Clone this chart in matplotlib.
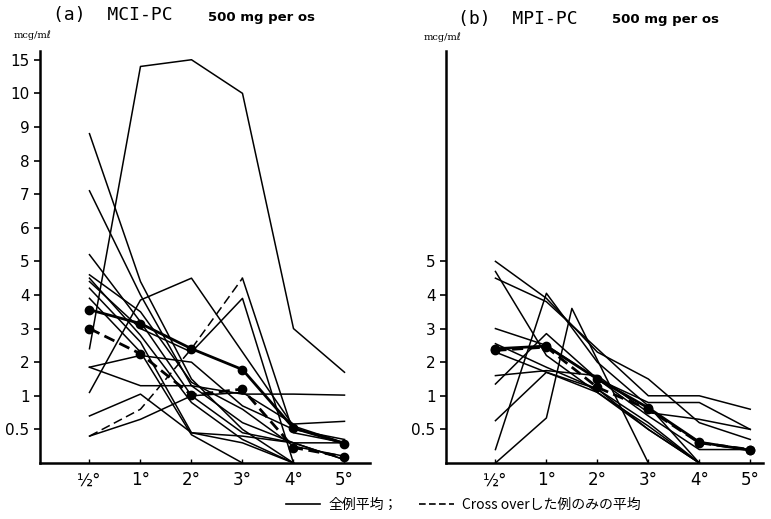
import numpy as np
import matplotlib
matplotlib.use('Agg')
import matplotlib.pyplot as plt
from matplotlib.lines import Line2D

# === Data (mcg/ml) ===
hours = [0, 1, 2, 3, 4, 5]           # category slots: 1/2, 1, 2, 3, 4, 5 h
hour_labels = ['½°', '1°', '2°', '3°', '4°', '5°']

# non-linear ordinate used in the original: 0, 0.5, 1, 2 ... 10, 15
scale_values = [0, 0.5, 1, 2, 3, 4, 5, 6, 7, 8, 9, 10, 15, 20]
yticks_a = [0.5, 1, 2, 3, 4, 5, 6, 7, 8, 9, 10, 15]
yticks_b = [0.5, 1, 2, 3, 4, 5]

# (a) MCI-PC individual cases
mci_cases = [
    [2.4, 14.0, 15.0, 10.0, 3.0, 1.7],
    [8.8, 4.4, 1.5, 0.5, 0.0],
    [7.1, 4.0, 1.3, 0.6, 0.3, 0.05],
    [5.2, 3.2, 1.0, 0.45, 0.3, 0.05],
    [4.6, 3.5, 1.4, 0.8, 0.25, 0.1],
    [4.5, 2.8, 0.9, 0.35, 0.0],
    [4.2, 2.6, 0.45, 0.4, 0.3, 0.3],
    [3.9, 2.3, 0.42, 0.0],
    [1.85, 2.2, 2.0, 0.85, 0.5, 0.35],
    [1.85, 1.3, 1.3, 1.05, 1.05, 1.02],
    [0.7, 1.05, 0.45, 0.3, 0.0],
    [0.4, 0.65, 1.0, 1.1, 0.58, 0.62],
    [1.1, 3.85, 4.5, 2.3, 0.55, 0.3],
    [4.4, 3.0, 2.3, 3.9, 0.0],
]
mci_dash_case = [0.4, 0.8, 2.4, 4.5, 0.45, 0.3]
mci_mean_all = [3.56, 3.15, 2.4, 1.78, 0.52, 0.29]
mci_mean_cross = [3.0, 2.25, 1.02, 1.2, 0.23, 0.09]

# (b) MPI-PC individual cases
mpi_cases = [
    [5.0, 3.9, 2.3, 1.5, 0.6, 0.35],
    [4.7, 2.2, 1.1, 0.5, 0.0],
    [4.5, 3.8, 2.4, 1.0, 1.0, 0.8],
    [3.0, 2.5, 1.5, 0.9, 0.9, 0.5],
    [1.6, 1.75, 1.6, 0.75, 0.65, 0.5],
    [1.35, 2.85, 1.5, 0.7, 0.2, 0.2],
    [0.63, 1.7, 1.2, 0.5, 0.0],
    [0.2, 4.05, 2.0, 0.85, 0.0],
    [2.55, 1.85, 1.2, 0.6, 0.0],
    [2.3, 1.7, 1.1, 0.55, 0.0],
]
mpi_peak_x = [0, 1, 1.5, 3]
mpi_peak_case = [0.0, 0.67, 3.6, 0.0]
mpi_mean_all = [2.4, 2.48, 1.5, 0.82, 0.31, 0.19]
mpi_mean_cross = [2.35, 2.45, 1.25, 0.8, 0.3, 0.2]

plt.rcParams['font.family'] = ['DejaVu Sans']

positions = np.arange(len(scale_values))


def fwd(v):
    return np.interp(v, scale_values, positions)


def inv(p):
    return np.interp(p, positions, scale_values)


def draw_panel(ax, cases, mean_all, mean_cross, yticks, xmax):
    for c in cases:
        ax.plot(hours[:len(c)], c, color='black', lw=1.1)
    ax.plot(hours, mean_all, color='black', lw=2.0, marker='o', ms=6)
    ax.plot(hours, mean_cross, color='black', lw=2.0, ls=(0, (4, 2)), marker='o', ms=6)
    ax.set_yscale('function', functions=(fwd, inv))
    ax.set_ylim(0, 16.3)
    ax.set_xlim(-0.97, xmax)
    ax.set_yticks(yticks)
    ax.set_yticklabels([('%g' % t) for t in yticks])
    ax.set_xticks(hours)
    ax.set_xticklabels(hour_labels)
    ax.spines['top'].set_visible(False)
    ax.spines['right'].set_visible(False)
    ax.spines['left'].set_linewidth(1.8)
    ax.spines['bottom'].set_linewidth(1.8)
    ax.tick_params(axis='y', direction='out', length=4, width=1.2, labelsize=11)
    ax.tick_params(axis='x', direction='in', length=3, width=1.0, labelsize=12, pad=6)
    ax.minorticks_off()


fig = plt.figure(figsize=(7.71, 5.19), dpi=100)
ax_a = fig.add_axes([40 / 771, 56 / 519, 330 / 771, 412 / 519])
ax_b = fig.add_axes([446 / 771, 56 / 519, 317 / 771, 412 / 519])

draw_panel(ax_a, mci_cases, mci_mean_all, mci_mean_cross, yticks_a, 5.5)
ax_a.plot(hours[:4], mci_dash_case[:4], color='black', lw=1.1, ls=(0, (6, 3)))
ax_a.plot(hours[3:], mci_dash_case[3:], color='black', lw=1.1)

draw_panel(ax_b, mpi_cases, mpi_mean_all, mpi_mean_cross, yticks_b, 5.25)
ax_b.plot(mpi_peak_x, mpi_peak_case, color='black', lw=1.1)

# titles / unit labels
mono = 'DejaVu Sans Mono'
unit_font = ['DejaVu Serif', 'DejaVu Sans']
fig.text(53 / 771, 1 - 15 / 519, '(a)  MCI-PC', fontsize=13, family=mono, va='center')
fig.text(208 / 771, 1 - 17 / 519, '500 mg per os', fontsize=9.5, weight='bold', va='center')
fig.text(458 / 771, 1 - 19 / 519, '(b)  MPI-PC', fontsize=13, family=mono, va='center')
fig.text(612 / 771, 1 - 20 / 519, '500 mg per os', fontsize=9.5, weight='bold', va='center')
fig.text(14 / 771, 1 - 35 / 519, 'mcg/mℓ', fontsize=7, family=unit_font, va='center')
fig.text(424 / 771, 1 - 37 / 519, 'mcg/mℓ', fontsize=7, family=unit_font, va='center')

# legend at the bottom
handles = [Line2D([], [], color='black', lw=1.2),
           Line2D([], [], color='black', lw=1.2, ls=(0, (4, 2)))]
leg = fig.legend(handles, ['全例平均；', 'Cross overした例のみの平均'],
                 loc='center', bbox_to_anchor=(463 / 771, 1 - 505 / 519), ncol=2,
                 frameon=False, handlelength=2.5, columnspacing=1.5, handletextpad=0.6,
                 prop={'family': ['Noto Sans CJK JP', 'DejaVu Sans'], 'size': 10})

fig.savefig('out.png', dpi=100)
